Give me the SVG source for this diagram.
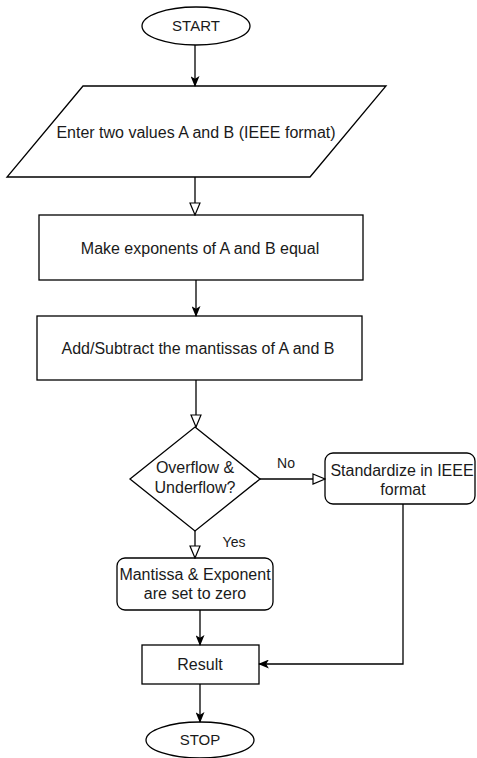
<svg xmlns="http://www.w3.org/2000/svg" width="477" height="758" viewBox="0 0 477 758">
<defs>
<style>
.s{fill:#fff;stroke:#000;stroke-width:1.3}
.t{font-family:"Liberation Sans",Arial,sans-serif;font-size:16px;fill:#1a1a1a;text-anchor:middle}
.sm{font-size:14px}
.c{fill:none;stroke:#000;stroke-width:1.3}
</style>
<marker id="fa" viewBox="0 0 12 10" refX="11" refY="5" markerWidth="11" markerHeight="9" markerUnits="userSpaceOnUse" orient="auto">
<path d="M0,0 L12,5 L0,10 L3,5 Z" fill="#000"/>
</marker>
<marker id="oa" viewBox="-1 -1 14 12" refX="12" refY="5" markerWidth="14" markerHeight="12" markerUnits="userSpaceOnUse" orient="auto">
<path d="M0,0 L12,5 L0,10 Z" fill="#fff" stroke="#000" stroke-width="1.2"/>
</marker>
</defs>
<g id="start"><ellipse class="s" cx="196" cy="26" rx="54" ry="19"/><text class="t" x="196" y="31" style="font-size:15px">START</text></g>
<g id="input"><polygon class="s" points="83,86 386,86 310,177 7,177"/><text class="t" x="196" y="138">Enter two values A and B (IEEE format)</text></g>
<g id="equalize"><rect class="s" x="39" y="215" width="324" height="65"/><text class="t" x="200" y="254">Make exponents of A and B equal</text></g>
<g id="addsub"><rect class="s" x="37" y="316" width="325" height="64"/><text class="t" x="198" y="354">Add/Subtract the mantissas of A and B</text></g>
<g id="check"><polygon class="s" points="195,427 260,479 195,531 130,479"/><text class="t" x="195" y="473">Overflow &amp;</text><text class="t" x="195" y="493">Underflow?</text></g>
<g id="standardize"><rect class="s" x="325" y="453" width="150" height="51" rx="8"/><text class="t" x="402" y="476">Standardize in IEEE</text><text class="t" x="403" y="495">format</text></g>
<g id="zero"><rect class="s" x="117" y="558" width="156" height="52" rx="8"/><text class="t" x="195" y="580">Mantissa &amp; Exponent</text><text class="t" x="195" y="599">are set to zero</text></g>
<g id="result"><rect class="s" x="142" y="645" width="117" height="39"/><text class="t" x="200" y="670">Result</text></g>
<g id="stop"><ellipse class="s" cx="200" cy="740" rx="54" ry="18"/><text class="t" x="200" y="745" style="font-size:15px">STOP</text></g>
<g id="connectors">
<path class="c" d="M195,45 V86" marker-end="url(#fa)"/>
<path class="c" d="M195,177 V215" marker-end="url(#oa)"/>
<path class="c" d="M196,280 V316" marker-end="url(#fa)"/>
<path class="c" d="M196,380 V427" marker-end="url(#oa)"/>
<path class="c" d="M195,531 V558" marker-end="url(#oa)"/>
<path class="c" d="M260,479 H325" marker-end="url(#oa)"/>
<path class="c" d="M200,610 V645" marker-end="url(#fa)"/>
<path class="c" d="M403,504 V664 H259" marker-end="url(#fa)"/>
<path class="c" d="M200,684 V722" marker-end="url(#fa)"/>
<text class="t sm" x="234" y="547">Yes</text>
<text class="t sm" x="286" y="468">No</text>
</g>
</svg>
